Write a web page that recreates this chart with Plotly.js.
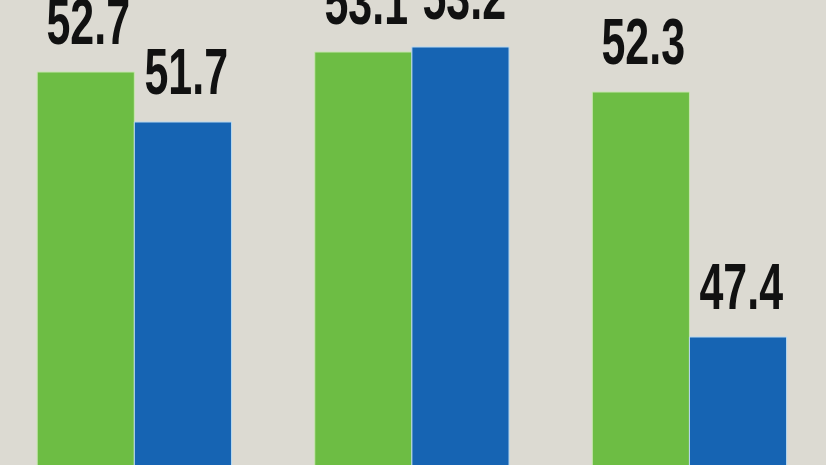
<!DOCTYPE html>
<html>
<head>
<meta charset="utf-8">
<script src="https://cdn.plot.ly/plotly-3.0.1.min.js"></script>
<style>html,body{margin:0;padding:0;background:#dcdad2;}#chart{width:826px;height:465px;}</style>
</head>
<body>
<div id="chart"></div>
<script>
const categories = ["Group 1", "Group 2", "Group 3"];
const seriesGreen = [52.7, 53.1, 52.3];
const seriesBlue = [51.7, 53.2, 47.4];
const labelsGreen = ["52.7", "53.1", "52.3"];
const labelsBlue = ["51.7", "53.2", "47.4"];

const bg = "#dcdad2";
const traces = [
  {type: "bar", x: categories, y: seriesGreen, name: "Series 1",
   marker: {color: "#6dbd44", line: {color: "#c8e6b0", width: 1}}},
  {type: "bar", x: categories, y: seriesBlue, name: "Series 2",
   marker: {color: "#1664b3", line: {color: "#b8d8f0", width: 1}}}
];

const half = 48.5;
const font = {family: "Liberation Sans, Arial, sans-serif", size: 65, color: "#111111", weight: "bold"};
const annotations = [];
categories.forEach((c, i) => {
  annotations.push({x: c, y: seriesGreen[i], xref: "x", yref: "y", text: labelsGreen[i],
    showarrow: false, yanchor: "bottom", xanchor: "center", xshift: -half + 3, yshift: 12, font: font});
  annotations.push({x: c, y: seriesBlue[i], xref: "x", yref: "y", text: labelsBlue[i],
    showarrow: false, yanchor: "bottom", xanchor: "center", xshift: half + 4, yshift: 12, font: font});
});

const layout = {
  width: 826, height: 465,
  margin: {l: 0, r: 0, t: 0, b: 0},
  paper_bgcolor: bg, plot_bgcolor: bg,
  barmode: "group", bargap: 0.30, bargroupgap: 0,
  showlegend: false,
  xaxis: {type: "category", range: [-0.484, 2.492], showticklabels: false, showgrid: false, zeroline: false, showline: false, ticks: ""},
  yaxis: {range: [44.84, 54.14], showticklabels: false, showgrid: false, zeroline: false, showline: false, ticks: ""},
  annotations: annotations
};

Plotly.newPlot("chart", traces, layout, {displayModeBar: false, staticPlot: true}).then(function (gd) {
  // condense the label glyphs horizontally around their own centre
  const sx = 0.66;
  gd.querySelectorAll("text.annotation-text").forEach(function (el) {
    const b = el.getBBox();
    const cx = b.x + b.width / 2;
    const prev = el.getAttribute("transform") || "";
    el.setAttribute("transform", (prev + " translate(" + cx + ",0) scale(" + sx + ",1) translate(" + (-cx) + ",0)").trim());
  });
});
</script>
</body>
</html>
